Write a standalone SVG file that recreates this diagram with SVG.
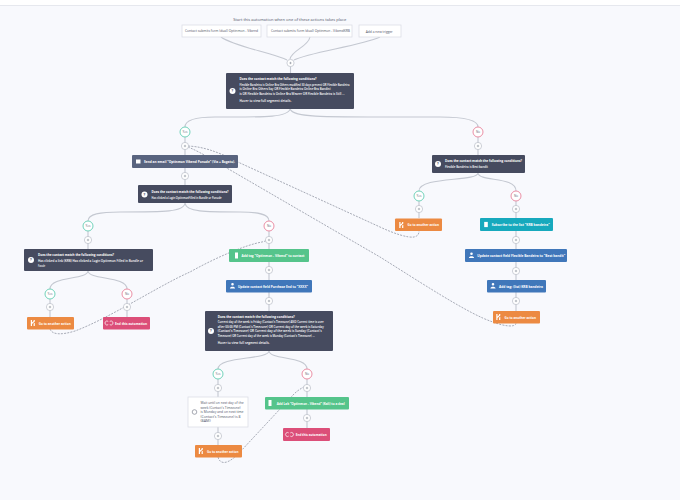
<svg xmlns="http://www.w3.org/2000/svg" width="680" height="500" viewBox="0 0 680 500">
<style>
text{font-family:"Open Sans","Liberation Sans",sans-serif}
.t{fill:#fff;font-size:3.3px;font-weight:700}
.s{fill:#fff;font-size:3px;font-weight:600}
.d{fill:#4f5468;font-size:3.2px}
.m{text-anchor:middle}
.w{fill:#fff;stroke:#dcdfe6;stroke-width:.8}
.dark{fill:#464b5f}.mail{fill:#59647f}.orange{fill:#ec8a42}.pink{fill:#dc4f79}.green{fill:#55c48b}.blue{fill:#4077ba}.teal{fill:#17a9bd}
.line{fill:none;stroke:#c4c8d1;stroke-width:1.1}
.dash{fill:none;stroke:#9da2ae;stroke-width:.9;stroke-dasharray:2 1.2}
.yes{fill:#fff;stroke:#62cdb2;stroke-width:.9}
.no{fill:#fff;stroke:#e8829b;stroke-width:.9}
.yn{fill:#5a6072;font-size:3px;text-anchor:middle}
.p{fill:#fff;stroke:#b9bdc7;stroke-width:.7}
.pl{stroke:#777c8a;stroke-width:.5}
.i{fill:#fff}
</style>
<defs>
<g id="plus"><circle class="p" r="3.6"/><path class="pl" d="M-1.2 0H1.2M0-1.2V1.2"/></g>
<g id="q"><circle class="i" r="3"/><text class="m" y="1.3" style="font-size:3.8px;font-weight:700;fill:#464b5f">?</text></g>
<path id="goto" class="i" d="M-2.200-3H-1V3H-2.200ZM-1-.5L.6-2V-3H1.800V-1.500L-1 1ZM.6.5L1.800-.3V3H.6Z"/>
<path id="exit" d="M-.8-1.600A2 2 0 1 0-.8 1.600M.8-1.600A2 2 0 1 1 .8 1.600" fill="none" stroke="#fff" stroke-width=".7"/>
<path id="person" class="i" d="M0-3A1.300 1.300 0 1 1 0-.4A1.300 1.300 0 1 1 0-3ZM-2.600 2.600C-2.600.2 2.600.2 2.600 2.600Z"/>
<rect id="list" class="i" x="-1.800" y="-2.600" width="3.600" height="5.200"/>
</defs>
<rect width="680" height="500" fill="#f8f9fd"/>
<rect width="680" height="5" fill="#fff"/>
<path d="M0 5.500H680" stroke="#e6e8ee" stroke-width="1"/>
<text class="d" x="233.300" y="20.800" textLength="113" lengthAdjust="spacingAndGlyphs">Start this automation when one of these actions takes place</text>

<g id="connectors">
<path class="line" d="M221 37C235 47 270 52 287 60M310 37C308 47 292 50 290 59M380 37C360 46 310 52 294 60"/>
<path class="line" d="M290.500 66V73"/>
<path class="line" d="M290 109C288 118 260 117 215 117C195 117 185 120 185 127M290 109C294 118 320 117 440 117C465 117 478 120 478 127"/>
<path class="line" d="M185 137V155M185 168V185M478 137V155"/>
<path class="line" d="M185 203C184 212 165 212 120 212C100 212 88 214 88 221M185 203C186 212 205 212 240 212C258 212 269 214 269 221"/>
<path class="line" d="M88 231V249M269 231V249M269 262V280M269 292V311"/>
<path class="line" d="M88 271C87 280 50 276 50 289M88 271C89 280 127 276 127 289M50 299V317M127 299V317"/>
<path class="line" d="M478 173C477 182 419 176 419 191M478 173C479 182 516 176 516 191M419 201V218M516 201V218M516 231V249M516 262V280M516 292V311"/>
<path class="line" d="M269 351C268 360 218 356 218 369M269 351C270 360 307 356 307 369M218 379V397M307 379V397M218 427V445M307 409V428"/>
<path class="dash" d="M185 146C200 146 215 150 240 163L380 227C395 234 408 238 414 237C418 236 419 234 419 231"/>
<path class="dash" d="M185 146C192 148 205 155 225 167L380 257C420 282 470 315 493 322C503 326 516 328 516 323"/>
<path class="dash" d="M50 329C52 335 62 335 75 331C110 318 160 285 190 272C215 258 245 245 262 242L269 240"/>
<path class="dash" d="M218 457C220 465 228 465 240 452L294 394C298 390 302 388 307 385"/>
</g>

<g id="trigger1"><rect class="w" x="182" y="25" width="79" height="12"/><text class="d" x="185" y="32" textLength="73" lengthAdjust="spacingAndGlyphs">Contact submits form (dual) Optinmon - Vibend</text></g>
<g id="trigger2"><rect class="w" x="267" y="25" width="85" height="12"/><text class="d" x="271" y="32" textLength="79" lengthAdjust="spacingAndGlyphs">Contact submits form (dual) Optinmon - VibendKRB</text></g>
<g id="trigger3"><rect class="w" x="359" y="25" width="42" height="12"/><text class="d" x="365.700" y="33" textLength="27" lengthAdjust="spacingAndGlyphs">Add a new trigger</text></g>
<use href="#plus" x="290.500" y="63"/>

<g id="cond1"><rect class="dark" x="226" y="73" width="128" height="36" rx="1"/><use href="#q" x="232.500" y="91"/>
<text class="t" x="239.500" y="80" textLength="77" lengthAdjust="spacingAndGlyphs">Does the contact match the following conditions?</text>
<text class="s" x="239.500" y="85.500" textLength="110" lengthAdjust="spacingAndGlyphs">Flexible Bandeira is Online Bra Others modified 30 days prevent OR Flexible Bandeira</text>
<text class="s" x="239.500" y="90" textLength="91" lengthAdjust="spacingAndGlyphs">is Online Bra Others Say OR Flexible Bandeira Online Bra Bandini</text>
<text class="s" x="239.500" y="94.500" textLength="105" lengthAdjust="spacingAndGlyphs">is OR Flexible Bandeira is Online Bra Wearer OR Flexible Bandeira is Still ...</text>
<text class="s" x="239.500" y="101.500" textLength="52" lengthAdjust="spacingAndGlyphs">Hover to view full segment details.</text></g>

<g id="yes1"><circle class="yes" cx="185" cy="132" r="5"/><text class="yn" x="185" y="133">Yes</text></g><use href="#plus" x="185" y="146"/>
<g id="no1"><circle class="no" cx="478" cy="132" r="5"/><text class="yn" x="478" y="133">No</text></g><use href="#plus" x="478" y="146"/>

<g id="email"><rect class="mail" x="132" y="155" width="106" height="13" rx="1"/><rect class="i" x="136" y="159.500" width="4.500" height="4"/>
<text class="t" x="144" y="162.800" textLength="91" lengthAdjust="spacingAndGlyphs">Send an email "Optinmon Vibend Ponude" (Via + Bogatu).</text></g>
<use href="#plus" x="185" y="176"/>
<g id="cond2"><rect class="dark" x="138" y="185" width="94" height="18" rx="1"/><use href="#q" x="144.500" y="194.500"/>
<text class="t" x="151.500" y="192.500" textLength="77" lengthAdjust="spacingAndGlyphs">Does the contact match the following conditions?</text>
<text class="s" x="151.500" y="198.500" textLength="70" lengthAdjust="spacingAndGlyphs">Has clicked a Login OptinmonFilled in Bundle or Ponude</text></g>
<g id="cond3"><rect class="dark" x="432" y="155" width="93" height="18" rx="1"/><use href="#q" x="438" y="164"/>
<text class="t" x="445" y="162" textLength="77" lengthAdjust="spacingAndGlyphs">Does the contact match the following conditions?</text>
<text class="s" x="445" y="168" textLength="43" lengthAdjust="spacingAndGlyphs">Flexible Bandeira is Best bandit</text></g>

<g id="yes2"><circle class="yes" cx="88" cy="226" r="5"/><text class="yn" x="88" y="227">Yes</text></g><use href="#plus" x="88" y="240"/>
<g id="no2"><circle class="no" cx="269" cy="226" r="5"/><text class="yn" x="269" y="227">No</text></g><use href="#plus" x="269" y="240"/>
<g id="yes3"><circle class="yes" cx="419" cy="196" r="5"/><text class="yn" x="419" y="197">Yes</text></g><use href="#plus" x="419" y="209"/>
<g id="no3"><circle class="no" cx="516" cy="196" r="5"/><text class="yn" x="516" y="197">No</text></g><use href="#plus" x="516" y="209"/>

<g id="goto1"><rect class="orange" x="395" y="218.500" width="47" height="12.500" rx="1"/><use href="#goto" x="401.500" y="225"/><text class="t" x="407.500" y="226" textLength="31.500" lengthAdjust="spacingAndGlyphs">Go to another action</text></g>
<g id="subscribe"><rect class="teal" x="480" y="218" width="73" height="13" rx="1"/><use href="#list" x="486" y="224.500"/><text class="t" x="491.700" y="225.700" textLength="58" lengthAdjust="spacingAndGlyphs">Subscribe to the list "KRB bandeira"</text></g>
<use href="#plus" x="516" y="240"/>
<g id="update1"><rect class="blue" x="465" y="249" width="102" height="13" rx="1"/><use href="#person" x="471.500" y="255.500"/><text class="t" x="477.300" y="256.700" textLength="88" lengthAdjust="spacingAndGlyphs">Update contact field Flexible Bandeira to "Best bandit"</text></g>
<use href="#plus" x="516" y="271"/>
<g id="tag1"><rect class="blue" x="487" y="280" width="59" height="12.500" rx="1"/><use href="#person" x="493" y="286"/><text class="t" x="499" y="287.500" textLength="44" lengthAdjust="spacingAndGlyphs">Add tag: (list) KRB bandeira</text></g>
<use href="#plus" x="516" y="301"/>
<g id="goto2"><rect class="orange" x="493" y="311" width="47" height="12.500" rx="1"/><use href="#goto" x="498.500" y="317"/><text class="t" x="504.500" y="318.500" textLength="31.500" lengthAdjust="spacingAndGlyphs">Go to another action</text></g>

<g id="cond4"><rect class="dark" x="24" y="249" width="129" height="22" rx="1"/><use href="#q" x="31" y="260"/>
<text class="t" x="38" y="256" textLength="76" lengthAdjust="spacingAndGlyphs">Does the contact match the following conditions?</text>
<text class="s" x="38" y="262" textLength="105" lengthAdjust="spacingAndGlyphs">Has clicked a link (KRB) Has clicked a Login Optinmon Filled in Bundle or</text>
<text class="s" x="38" y="266.500" textLength="7" lengthAdjust="spacingAndGlyphs">Ponude</text></g>
<g id="yes4"><circle class="yes" cx="50" cy="294" r="5"/><text class="yn" x="50" y="295">Yes</text></g><use href="#plus" x="50" y="307"/>
<g id="no4"><circle class="no" cx="127" cy="294" r="5"/><text class="yn" x="127" y="295">No</text></g><use href="#plus" x="127" y="307"/>
<g id="goto3"><rect class="orange" x="27" y="317" width="47" height="12.500" rx="1"/><use href="#goto" x="33" y="323"/><text class="t" x="38.700" y="324.500" textLength="32" lengthAdjust="spacingAndGlyphs">Go to another action</text></g>
<g id="end1"><rect class="pink" x="103" y="317" width="47" height="12.500" rx="1"/><use href="#exit" x="109" y="323"/><text class="t" x="115" y="324.500" textLength="32" lengthAdjust="spacingAndGlyphs">End this automation</text></g>

<g id="addtag"><rect class="green" x="229" y="249" width="80" height="13" rx="1"/><rect class="i" x="235" y="252.500" width="3" height="6"/><text class="t" x="241.500" y="256.700" textLength="63" lengthAdjust="spacingAndGlyphs">Add tag "Optinmon - Vibend" to contact</text></g>
<use href="#plus" x="269" y="270"/>
<g id="update2"><rect class="blue" x="226" y="280" width="86" height="12.500" rx="1"/><use href="#person" x="232.500" y="286"/><text class="t" x="238" y="287.500" textLength="70" lengthAdjust="spacingAndGlyphs">Update contact field Purchase End to "XXXX"</text></g>
<use href="#plus" x="269" y="301"/>
<g id="cond5"><rect class="dark" x="205" y="311" width="128" height="40" rx="1"/><use href="#q" x="211" y="331"/>
<text class="t" x="217.700" y="318" textLength="77" lengthAdjust="spacingAndGlyphs">Does the contact match the following conditions?</text>
<text class="s" x="217.700" y="323" textLength="106" lengthAdjust="spacingAndGlyphs">Current day of the week is Friday (Contact's Timezone) AND Current time is over</text>
<text class="s" x="217.700" y="327.500" textLength="106" lengthAdjust="spacingAndGlyphs">after 00:00 PM (Contact's Timezone) OR Current day of the week is Saturday</text>
<text class="s" x="217.700" y="332" textLength="104" lengthAdjust="spacingAndGlyphs">(Contact's Timezone) OR Current day of the week is Sunday (Contact's</text>
<text class="s" x="217.700" y="336.500" textLength="97" lengthAdjust="spacingAndGlyphs">Timezone) OR Current day of the week is Monday (Contact's Timezone) ...</text>
<text class="s" x="217.700" y="344" textLength="52" lengthAdjust="spacingAndGlyphs">Hover to view full segment details.</text></g>

<g id="yes5"><circle class="yes" cx="218" cy="374" r="5"/><text class="yn" x="218" y="375">Yes</text></g><use href="#plus" x="218" y="388"/>
<g id="no5"><circle class="no" cx="307" cy="374" r="5"/><text class="yn" x="307" y="375">No</text></g><use href="#plus" x="307" y="388"/>
<g id="wait"><rect class="w" x="188" y="397" width="60" height="30"/><circle cx="194.500" cy="412" r="2.300" fill="#fff" stroke="#6b7080" stroke-width=".6"/>
<text class="d" x="200.500" y="404" textLength="43" lengthAdjust="spacingAndGlyphs">Wait until on next day of the</text>
<text class="d" x="200.500" y="408.500" textLength="40" lengthAdjust="spacingAndGlyphs">week (Contact's Timezone)</text>
<text class="d" x="200.500" y="413" textLength="43" lengthAdjust="spacingAndGlyphs">is Monday and on next time</text>
<text class="d" x="200.500" y="417.500" textLength="40" lengthAdjust="spacingAndGlyphs">(Contact's Timezone) is 8</text>
<text class="d" x="200.500" y="422" textLength="10" lengthAdjust="spacingAndGlyphs">(8AM)</text></g>
<use href="#plus" x="218" y="436"/>
<g id="goto4"><rect class="orange" x="195" y="445" width="47" height="12.500" rx="1"/><use href="#goto" x="201" y="451"/><text class="t" x="207" y="452.500" textLength="31.500" lengthAdjust="spacingAndGlyphs">Go to another action</text></g>
<g id="addlist"><rect class="green" x="265" y="397" width="84" height="12.500" rx="1"/><rect class="i" x="268.500" y="400" width="3" height="6"/><text class="t" x="276.700" y="404.500" textLength="68" lengthAdjust="spacingAndGlyphs">Add Lab "Optinmon - Vibend" (Kali) to a deal</text></g>
<use href="#plus" x="307" y="418"/>
<g id="end2"><rect class="pink" x="283" y="428" width="47" height="13" rx="1"/><use href="#exit" x="289.500" y="434.500"/><text class="t" x="295.700" y="436" textLength="31" lengthAdjust="spacingAndGlyphs">End this automation</text></g>
</svg>
